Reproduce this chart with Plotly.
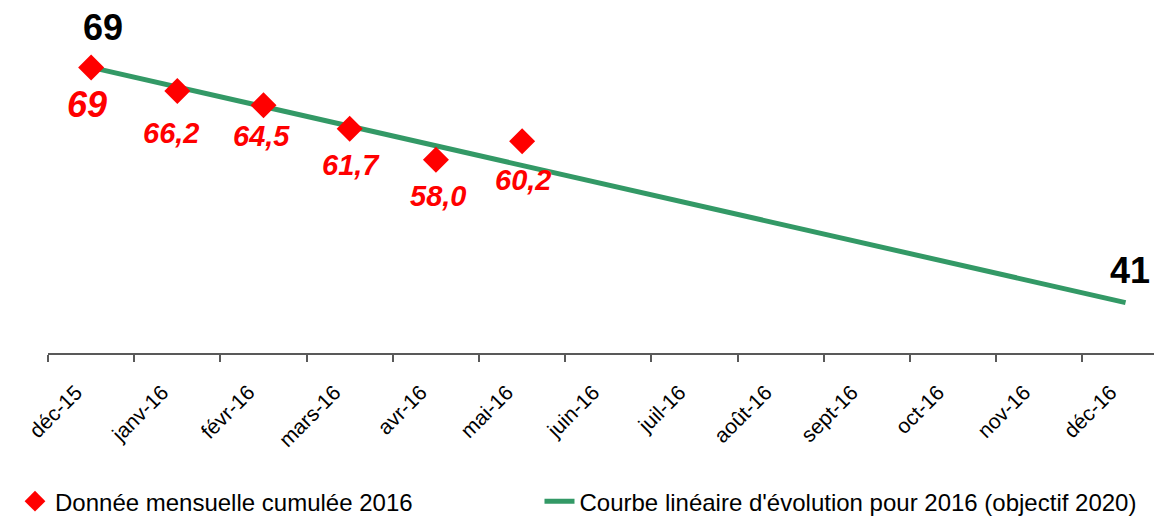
import plotly.graph_objects as go

categories = ["déc-15", "janv-16", "févr-16", "mars-16", "avr-16", "mai-16",
              "juin-16", "juil-16", "août-16", "sept-16", "oct-16", "nov-16", "déc-16"]
monthly_cats = ["déc-15", "janv-16", "févr-16", "mars-16", "avr-16", "mai-16"]
monthly_vals = [69, 66.2, 64.5, 61.7, 58.0, 60.2]
monthly_text = ["69", "66,2", "64,5", "61,7", "58,0", "60,2"]
trend_cats = ["déc-15", "déc-16"]
trend_vals = [69, 41]

# label placement (pixel offsets from each marker), styling only
label_dx = [-4, -6, -2.5, 1, 2.5, 1]
label_dy = [-37, -42.5, -31, -36, -36.5, -38.5]

FONT = "Liberation Sans, Arial, sans-serif"
RED = "#FF0000"
GREEN = "#339966"

fig = go.Figure()
fig.add_trace(go.Scatter(
    x=trend_cats, y=trend_vals, mode="lines",
    line=dict(color=GREEN, width=5),
    name="Courbe linéaire d'évolution pour 2016 (objectif 2020)",
    legend="legend2",
))
fig.add_trace(go.Scatter(
    x=monthly_cats, y=monthly_vals, mode="markers",
    marker=dict(symbol="diamond", size=20, color=RED),
    name="Donnée mensuelle cumulée 2016",
    legend="legend",
))

# red value labels under the markers
for i, (c, v, t) in enumerate(zip(monthly_cats, monthly_vals, monthly_text)):
    big = (i == 0)
    fig.add_annotation(
        x=c, y=v, text=f"<b><i>{t}</i></b>", showarrow=False,
        xshift=label_dx[i], yshift=label_dy[i],
        font=dict(family=FONT, size=36 if big else 29, color=RED),
    )

# black start / target labels
fig.add_annotation(x=trend_cats[0], y=trend_vals[0], text="<b>69</b>", showarrow=False,
                   xshift=12, yshift=40, font=dict(family=FONT, size=36, color="black"))
fig.add_annotation(x=trend_cats[1], y=trend_vals[1], text="<b>41</b>", showarrow=False,
                   xshift=4, yshift=32, font=dict(family=FONT, size=36, color="black"))

legend_common = dict(
    orientation="h", y=0.028, xref="container", yref="container",
    xanchor="left", yanchor="middle",
    font=dict(family=FONT, size=24, color="black"), bgcolor="rgba(0,0,0,0)",
)

fig.update_layout(
    width=1154, height=516,
    margin=dict(l=48, r=0, t=17, b=163),
    paper_bgcolor="white", plot_bgcolor="white",
    font=dict(family=FONT, color="black"),
    showlegend=True,
    legend=dict(x=0.013, **legend_common),
    legend2=dict(x=0.4675, **legend_common),
    xaxis=dict(
        type="category", categoryorder="array", categoryarray=categories,
        range=[-0.5, 12.33], showgrid=False, zeroline=False, automargin=False,
        showline=True, linecolor="#595959", linewidth=1.5,
        ticks="outside", ticklen=7, tickcolor="#595959", tickwidth=1.5,
        tickson="boundaries", tickangle=-45,
        ticklabelstandoff=17, ticklabelshift=-15,
        tickfont=dict(family=FONT, size=21, color="black"),
    ),
    yaxis=dict(range=[35, 75], visible=False, showgrid=False, zeroline=False),
)

fig.write_html("out.html", config={"displayModeBar": False},
               post_script="document.body.style.margin='0';")
